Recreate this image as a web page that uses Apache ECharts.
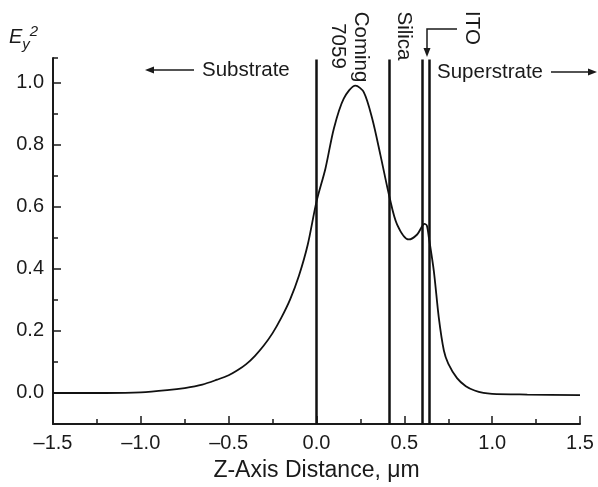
<!DOCTYPE html>
<html>
<head>
<meta charset="utf-8">
<script src="https://cdn.jsdelivr.net/npm/echarts@6/dist/echarts.min.js"></script>
<style>
html,body{margin:0;padding:0;background:#fff;}
#chart{width:598px;height:487px;}
</style>
</head>
<body>
<div id="chart"></div>
<script>
// ---- data ----
const curveX = [-1.5, -1.2, -1.0, -0.85, -0.75, -0.65, -0.565, -0.5, -0.45, -0.4, -0.35, -0.3, -0.25, -0.2, -0.15, -0.1, -0.05, 0.0, 0.051, 0.099, 0.155, 0.222, 0.269, 0.317, 0.364, 0.417, 0.459, 0.525, 0.573, 0.615, 0.628, 0.64, 0.668, 0.696, 0.725, 0.75, 0.80, 0.85, 0.90, 0.95, 1.0, 1.2, 1.5];
const curveY = [0.0, 0.0, 0.002, 0.009, 0.016, 0.027, 0.043, 0.057, 0.073, 0.093, 0.12, 0.153, 0.193, 0.243, 0.302, 0.378, 0.478, 0.617, 0.724, 0.853, 0.949, 0.991, 0.970, 0.885, 0.767, 0.628, 0.543, 0.495, 0.511, 0.545, 0.54, 0.50, 0.393, 0.244, 0.137, 0.095, 0.048, 0.022, 0.008, 0.0, -0.003, -0.005, -0.007];
const boundaries = [0, 0.415, 0.60, 0.64];
const yMajorTicks = [0.0, 0.2, 0.4, 0.6, 0.8, 1.0];
const yMinorTicks = [0.1, 0.3, 0.5, 0.7, 0.9, 1.08];
const xTitle = 'Z-Axis Distance, \u03bcm';

const FONT = '"Liberation Sans", Arial, Helvetica, sans-serif';
const fmt = v => {
  const s = Number(v).toFixed(1);
  return s.replace('-', '\u2013');
};

const chart = echarts.init(document.getElementById('chart'), null, {renderer: 'canvas'});
const option = {
  animation: false,
  backgroundColor: '#fff',
  grid: {left: 53, right: 18, top: 58, bottom: 59, containLabel: false},
  xAxis: {
    type: 'value', min: -1.5, max: 1.5, interval: 0.5,
    name: xTitle, nameLocation: 'middle', nameGap: 35,
    nameTextStyle: {fontFamily: FONT, fontSize: 23, color: '#1a1a1a'},
    axisLine: {show: true, onZero: false, lineStyle: {color: '#1a1a1a', width: 2}},
    axisTick: {show: true, inside: true, length: 8, lineStyle: {color: '#1a1a1a', width: 1.5}},
    minorTick: {show: true, splitNumber: 2, length: 5, lineStyle: {color: '#1a1a1a', width: 1.5}},
    splitLine: {show: false},
    axisLabel: {fontFamily: FONT, fontSize: 20, color: '#1a1a1a', margin: 9, formatter: fmt}
  },
  yAxis: [{
    type: 'value', min: -0.1, max: 1.08, position: 'left',
    axisLine: {show: true, onZero: false, lineStyle: {color: '#1a1a1a', width: 2}},
    axisTick: {show: true, inside: true, length: 8, customValues: yMajorTicks, lineStyle: {color: '#1a1a1a', width: 1.5}},
    splitLine: {show: false},
    axisLabel: {fontFamily: FONT, fontSize: 20, color: '#1a1a1a', margin: 9, customValues: yMajorTicks, formatter: fmt}
  }, {
    type: 'value', min: -0.1, max: 1.08, position: 'left', offset: 0,
    axisLine: {show: false, onZero: false},
    axisTick: {show: true, inside: true, length: 5, customValues: yMinorTicks, lineStyle: {color: '#1a1a1a', width: 1.5}},
    splitLine: {show: false},
    axisLabel: {show: false}
  }],
  series: [{
    type: 'line',
    data: curveX.map((x, i) => [x, curveY[i]]),
    smooth: 0.3,
    showSymbol: false,
    lineStyle: {color: '#111', width: 1.8},
    markLine: {
      silent: true,
      symbol: ['none', 'none'],
      label: {show: false},
      lineStyle: {color: '#111', width: 2.5, type: 'solid'},
      data: boundaries.map(b => [{coord: [b, -0.1]}, {coord: [b, 1.075]}])
    }
  }],
  graphic: [
    // E_y^2 label
    {type: 'text', x: 9, y: 47, style: {
      text: '{e|E}{s|y}{p|2}', fill: '#1a1a1a', verticalAlign: 'bottom',
      rich: {
        e: {fontFamily: FONT, fontSize: 20, fontStyle: 'italic', fill: '#1a1a1a', verticalAlign: 'bottom'},
        s: {fontFamily: FONT, fontSize: 15, fontStyle: 'italic', fill: '#1a1a1a', verticalAlign: 'bottom', padding: [0, 0, -5, 0]},
        p: {fontFamily: FONT, fontSize: 15, fontStyle: 'italic', fill: '#1a1a1a', verticalAlign: 'top', padding: [0, 0, 8, 0]}
      }
    }},
    // Substrate
    {type: 'text', x: 202, y: 70, style: {text: 'Substrate', font: '20.5px ' + FONT, fill: '#1a1a1a', align: 'left', verticalAlign: 'middle'}},
    {type: 'line', shape: {x1: 194, y1: 70, x2: 152, y2: 70}, style: {stroke: '#1a1a1a', lineWidth: 1.5}},
    {type: 'polygon', shape: {points: [[145, 70], [154, 66.5], [154, 73.5]]}, style: {fill: '#1a1a1a'}},
    // Superstrate
    {type: 'text', x: 437, y: 72, style: {text: 'Superstrate', font: '20.5px ' + FONT, fill: '#1a1a1a', align: 'left', verticalAlign: 'middle'}},
    {type: 'line', shape: {x1: 551, y1: 72, x2: 590, y2: 72}, style: {stroke: '#1a1a1a', lineWidth: 1.5}},
    {type: 'polygon', shape: {points: [[597, 72], [588, 68.5], [588, 75.5]]}, style: {fill: '#1a1a1a'}},
    // Rotated layer labels
    {type: 'text', x: 361, y: 47, rotation: -Math.PI / 2, style: {text: 'Coming', font: '20.5px ' + FONT, fill: '#1a1a1a', align: 'center', verticalAlign: 'middle'}},
    {type: 'text', x: 338, y: 46, rotation: -Math.PI / 2, style: {text: '7059', font: '20.5px ' + FONT, fill: '#1a1a1a', align: 'center', verticalAlign: 'middle'}},
    {type: 'text', x: 404, y: 36, rotation: -Math.PI / 2, style: {text: 'Silica', font: '20.5px ' + FONT, fill: '#1a1a1a', align: 'center', verticalAlign: 'middle'}},
    {type: 'text', x: 472, y: 28, rotation: -Math.PI / 2, style: {text: 'ITO', font: '20.5px ' + FONT, fill: '#1a1a1a', align: 'center', verticalAlign: 'middle'}},
    // ITO arrow
    {type: 'polyline', shape: {points: [[457, 29], [427, 29], [427, 50]]}, style: {stroke: '#1a1a1a', lineWidth: 1.5, fill: null}},
    {type: 'polygon', shape: {points: [[427, 57], [423.5, 48], [430.5, 48]]}, style: {fill: '#1a1a1a'}}
  ]
};
chart.setOption(option);
</script>
</body>
</html>
